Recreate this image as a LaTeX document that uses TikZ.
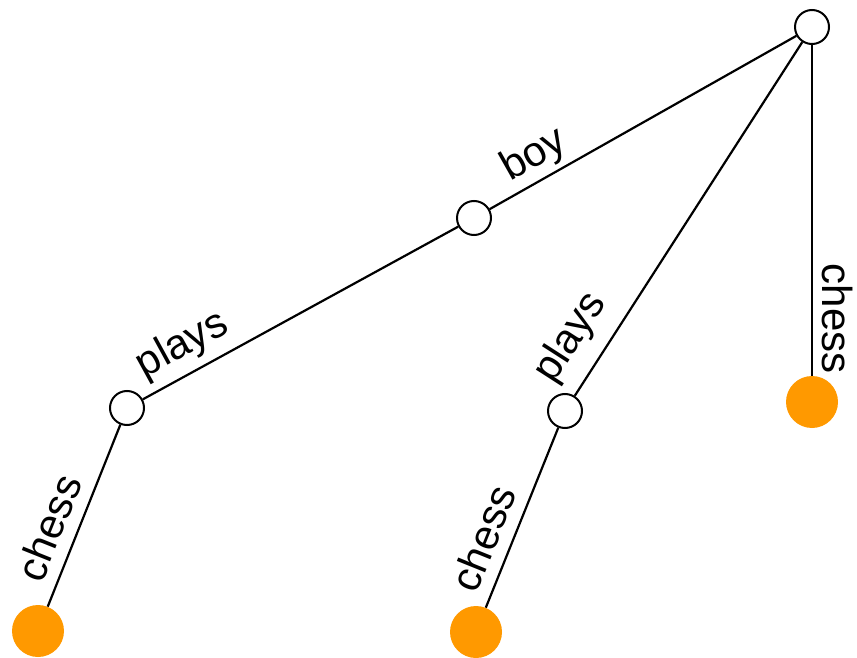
\documentclass[tikz,border=0pt]{standalone}
\usepackage{fontspec}
\setmainfont{Liberation Sans}
\definecolor{leaforange}{RGB}{255,153,0}
\begin{document}
\begin{tikzpicture}[x=1pt,y=-1pt,
  inner/.style={circle,draw=black,line width=2pt,fill=white,minimum size=34pt,inner sep=0pt},
  leaf/.style={circle,fill=leaforange,draw=none,minimum size=52pt,inner sep=0pt},
  edge/.style={draw=black,line width=2.2pt},
  lbl/.style={sloped,font=\fontsize{42}{50}\selectfont,inner sep=0pt}]
\useasboundingbox (0,0) rectangle (857,658);

% tree nodes
\node[inner] (root) at (812,27) {};
\node[inner] (boy) at (474,218) {};
\node[inner] (playsL) at (127,408) {};
\node[leaf] (chessL) at (38,631) {};
\node[inner] (playsM) at (565,411) {};
\node[leaf] (chessM) at (476,632) {};
\node[leaf] (chessR) at (812,402) {};

% labelled edges
\draw[edge] (root) -- node[lbl,pos=0.815,above=4pt] {boy} (boy);
\draw[edge] (boy) -- node[lbl,pos=0.831,above=8pt] {plays} (playsL);
\draw[edge] (playsL) -- node[lbl,pos=0.623,above=12pt] {chess} (chessL);
\draw[edge] (root) -- node[lbl,pos=0.889,above=14pt] {plays} (playsM);
\draw[edge] (playsM) -- node[lbl,pos=0.672,above=12pt] {chess} (chessM);
\draw[edge] (root) -- node[lbl,allow upside down,pos=0.827,above=9pt] {chess} (chessR);
\end{tikzpicture}
\end{document}
